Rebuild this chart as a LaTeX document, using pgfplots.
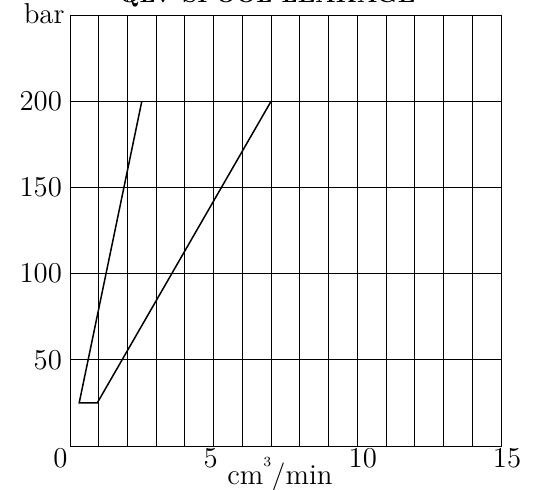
\documentclass[border=0pt]{standalone}
\usepackage{pgfplots}
\pgfplotsset{compat=1.18}
\begin{document}
\begin{tikzpicture}
\begin{axis}[
  scale only axis,
  width=215.5pt, height=215.5pt,
  xmin=0, xmax=15, ymin=0, ymax=250,
  xtick={0,5,10,15},
  xticklabels={\hspace*{-9.5pt}0, \hspace*{-3pt}5, \hspace*{5.5pt}10, \hspace*{6pt}15},
  minor xtick={1,2,3,4,6,7,8,9,11,12,13,14},
  ytick={50,100,150,200},
  grid=both,
  major grid style={black, line width=0.45pt},
  minor grid style={black, line width=0.45pt},
  axis line style={black, line width=0.45pt},
  major tick length=0pt, minor tick length=0pt,
  tick label style={font=\Large},
  xticklabel style={yshift=2.5pt},
  yticklabel style={xshift=-0.5pt},
]
\addplot[black, line width=0.75pt] coordinates {(2.5,200) (0.32,25) (0.95,25) (7,200)};
\end{axis}
\node[anchor=base east, font=\Large] at ([xshift=0.8pt, yshift=-4.5pt]current axis.north west) {bar};
\node[anchor=base, font=\Large] at ([xshift=-2.75pt, yshift=-19.5pt]current axis.south) {cm\raisebox{9pt}{\scriptsize 3}/min};
\node[anchor=base, font=\large\bfseries] at ([xshift=-9pt, yshift=6.25pt]current axis.north) {QLV SPOOL LEAKAGE};
\pgfresetboundingbox
\useasboundingbox ([xshift=-35pt, yshift=-22pt]current axis.south west) rectangle ([xshift=20pt, yshift=7.5pt]current axis.north east);
\end{tikzpicture}
\end{document}
